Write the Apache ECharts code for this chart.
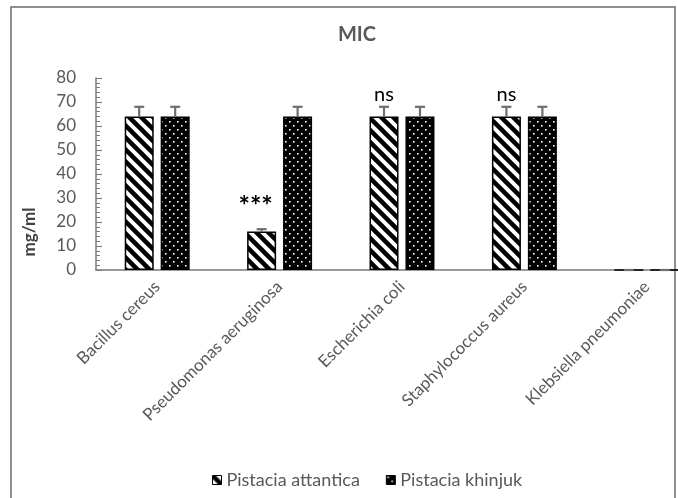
<!DOCTYPE html>
<html><head><meta charset="utf-8">
<script src="https://cdn.jsdelivr.net/npm/echarts@6/dist/echarts.min.js"></script>
<style>html,body{margin:0;padding:0;background:#fff}#c{width:678px;height:498px}</style>
</head><body><div id="c"></div>
<script>
const categories = ['Bacillus cereus','Pseudomonas aeruginosa','Escherichia coli','Staphylococcus aureus','Klebsiella pneumoniae'];
const attantica = [64, 16, 64, 64, 0];
const khinjuk = [64, 64, 64, 64, 0];
const attanticaErr = [4, 1, 4, 4, 0];
const khinjukErr = [4, 4, 4, 4, 0];
const annotations = ['', '***', 'ns', 'ns', ''];
const yTicks = [0, 10, 20, 30, 40, 50, 60, 70, 80];

function stripeTile() {
  const s = 12, c = document.createElement('canvas');
  c.width = s; c.height = s;
  const g = c.getContext('2d');
  g.fillStyle = '#fff'; g.fillRect(0, 0, s, s);
  g.strokeStyle = '#000'; g.lineWidth = 4.5;
  for (let k = -1; k <= 1; k++) { g.beginPath(); g.moveTo(k * s - 2, -2); g.lineTo(k * s + s + 2, s + 2); g.stroke(); }
  return c;
}
function dotTile() {
  const w = 8, h = 8, c = document.createElement('canvas');
  c.width = w; c.height = h;
  const g = c.getContext('2d');
  g.fillStyle = '#000'; g.fillRect(0, 0, w, h);
  g.fillStyle = '#fff';
  g.fillRect(1, 1, 1.6, 1.6);
  g.fillRect(5, 5, 1.6, 1.6);
  return c;
}
const stripe = { image: stripeTile(), repeat: 'repeat' };
const dots = { image: dotTile(), repeat: 'repeat' };

const chart = echarts.init(document.getElementById('c'));
const font = 'Lato, "Open Sans", sans-serif';
const OFF = 18;

function errSeries(vals, errs, offset) {
  return {
    type: 'custom', z: 5, silent: true,
    data: vals.map((v, i) => [i, v, errs[i]]),
    encode: { x: 0, y: 1 },
    renderItem: function (params, api) {
      const i = api.value(0), v = api.value(1), e = api.value(2);
      const p0 = api.coord([i, v]);
      const p1 = api.coord([i, v + e]);
      const x = p0[0] + offset;
      const st = { stroke: '#6e6e6e', lineWidth: 2.2 };
      return { type: 'group', children: [
        { type: 'line', shape: { x1: x, y1: p0[1], x2: x, y2: p1[1] }, style: st },
        { type: 'line', shape: { x1: x - 5, y1: p1[1], x2: x + 5, y2: p1[1] }, style: st }
      ]};
    }
  };
}

chart.setOption({
  animation: false,
  textStyle: { fontFamily: font },
  title: { text: 'MIC', left: 352, top: 20, textAlign: 'center',
    textStyle: { fontSize: 20, fontWeight: 'bold', color: '#595959', fontFamily: font } },
  graphic: [
    { type: 'rect', shape: { x: 11, y: 7, width: 664, height: 500 }, style: { fill: null, stroke: '#6b6b6b', lineWidth: 1.5 }, silent: true },
    { type: 'text', x: 30, y: 232, rotation: Math.PI / 2,
      style: { text: 'mg/ml', fill: '#404040', font: 'bold 17px ' + font, textAlign: 'center', textVerticalAlign: 'middle' } }
  ],
  legend: {
    bottom: 4, left: 207, itemWidth: 9, itemHeight: 9, itemGap: 26, icon: 'rect',
    textStyle: { fontSize: 18, color: '#595959', fontFamily: font },
    itemStyle: { borderColor: '#000', borderWidth: 1 },
    data: ['Pistacia attantica', 'Pistacia khinjuk']
  },
  grid: { left: 96, top: 78, width: 612, height: 192, containLabel: false, outerBoundsMode: 'none' },
  xAxis: {
    type: 'category', data: categories,
    axisLine: { lineStyle: { color: '#7a7a7a', width: 1.5 } },
    axisTick: { show: false },
    axisLabel: { rotate: 45, margin: 14, fontSize: 17, color: '#595959', fontFamily: font, interval: 0 }
  },
  yAxis: {
    type: 'value', min: yTicks[0], max: yTicks[yTicks.length - 1], interval: 10,
    axisLine: { show: true, lineStyle: { color: '#7a7a7a', width: 1.5 } },
    axisTick: { show: true, inside: true, length: 6, lineStyle: { color: '#7a7a7a' } },
    minorTick: { show: true, splitNumber: 5, length: 4, lineStyle: { color: '#7a7a7a' } },
    splitLine: { show: false },
    axisLabel: { fontSize: 17, color: '#595959', margin: 20, fontFamily: font }
  },
  series: [
    { name: 'Pistacia attantica', type: 'bar', barWidth: 29, barGap: '24%',
      itemStyle: { color: stripe, borderColor: '#000', borderWidth: 1.5 },
      data: attantica.map((v, i) => annotations[i] ? {
        value: v,
        label: { show: true, position: 'top', formatter: annotations[i],
          distance: 12,
          offset: annotations[i] === '***' ? [-6, 0] : [0, 0],
          color: '#000', fontSize: annotations[i] === '***' ? 27 : 20,
          fontWeight: annotations[i] === '***' ? 'bold' : 'normal', fontFamily: font }
      } : v) },
    { name: 'Pistacia khinjuk', type: 'bar', barWidth: 29,
      itemStyle: { color: dots, borderColor: '#000', borderWidth: 1.5 },
      data: khinjuk },
    errSeries(attantica, attanticaErr, -OFF),
    errSeries(khinjuk, khinjukErr, OFF)
  ]
});
</script></body></html>
